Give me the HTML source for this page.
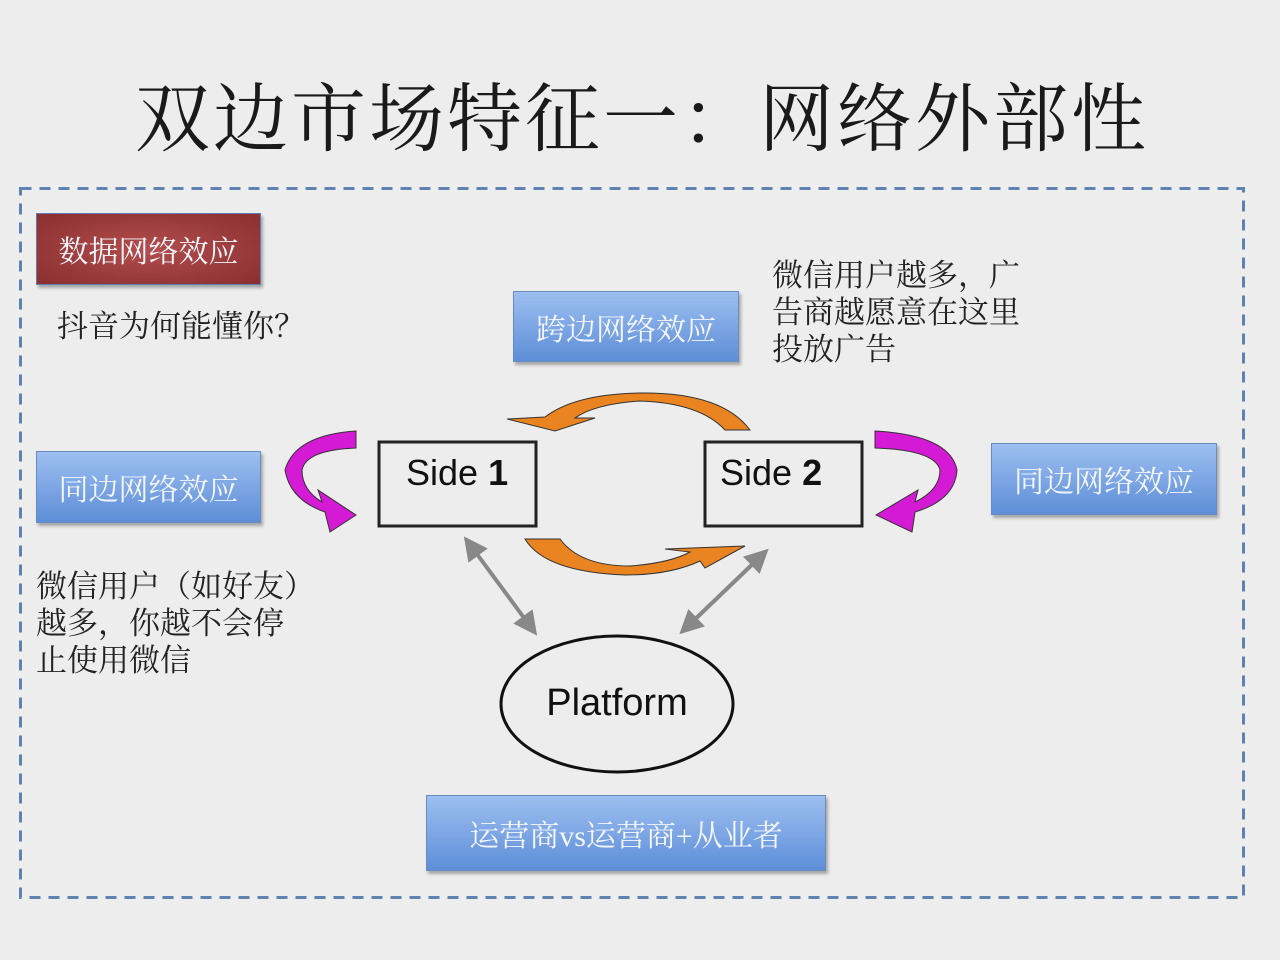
<!DOCTYPE html>
<html><head><meta charset="utf-8"><style>
body{margin:0;width:1280px;height:960px;background:#ededed;position:relative;overflow:hidden;font-family:"Liberation Serif","Noto Serif CJK SC",serif}
.t{position:absolute;white-space:nowrap}
.b{position:absolute;box-sizing:border-box;border:1px solid #6b8cc0;background:linear-gradient(#9dbff0,#5d8ed8);color:#f4f6fb;font-size:30px;display:flex;align-items:center;justify-content:center;box-shadow:2px 3px 3px rgba(0,0,0,.3)}
.k{color:#222;font-size:31px;line-height:37px}
</style></head><body>
<div class="t" style="left:135px;top:60px;font-size:75px;letter-spacing:3px;color:#1a1a1a">双边市场特征一：网络外部性</div>
<div class="b" style="left:36px;top:213px;width:225px;height:72px;background:radial-gradient(ellipse at center,#b24e4e,#8a2e2e);border-color:#5d7fb8">数据网络效应</div>
<div class="t k" style="left:57px;top:308px">抖音为何能懂你？</div>
<div class="b" style="left:513px;top:291px;width:226px;height:71px">跨边网络效应</div>
<div class="t k" style="left:772px;top:257px">微信用户越多，广<br>告商越愿意在这里<br>投放广告</div>
<div class="b" style="left:36px;top:451px;width:225px;height:72px">同边网络效应</div>
<div class="b" style="left:991px;top:443px;width:226px;height:72px">同边网络效应</div>
<div class="t k" style="left:36px;top:568px">微信用户（如好友）<br>越多，你越不会停<br>止使用微信</div>
<div class="b" style="left:426px;top:795px;width:400px;height:76px">运营商vs运营商+从业者</div>
<svg width="1280" height="960" style="position:absolute;left:0;top:0">
<defs><marker id="g" markerWidth="6" markerHeight="6" refX="3" refY="3" orient="auto-start-reverse"><path d="M0,0L6,3L0,6z" fill="#888"/></marker></defs>
<rect x="20.5" y="188.5" width="1223" height="709" fill="none" stroke="#5f82b0" stroke-width="3" stroke-dasharray="11,8"/>
<rect x="379" y="442" width="157" height="84" fill="none" stroke="#222" stroke-width="3"/>
<rect x="705" y="442" width="157" height="84" fill="none" stroke="#222" stroke-width="3"/>
<text x="406" y="485" font-family="Liberation Sans" font-size="36" fill="#111">Side <tspan font-weight="bold">1</tspan></text>
<text x="720" y="485" font-family="Liberation Sans" font-size="36" fill="#111">Side <tspan font-weight="bold">2</tspan></text>
<ellipse cx="617" cy="704" rx="116" ry="68" fill="none" stroke="#111" stroke-width="3"/>
<text x="617" y="715" text-anchor="middle" font-family="Liberation Sans" font-size="38" fill="#111">Platform</text>
<line x1="471" y1="546" x2="530" y2="626" stroke="#888" stroke-width="4" marker-start="url(#g)" marker-end="url(#g)"/>
<line x1="760" y1="557" x2="688" y2="626" stroke="#888" stroke-width="4" marker-start="url(#g)" marker-end="url(#g)"/>
<path d="M750,430 L725,430 Q700,403 640,401 Q595,404 575,418 L595,418 L555,431 L507,419 L545,417 Q575,394 640,393 Q722,392 750,430Z" fill="#ea8420" stroke="#333" stroke-width="1"/>
<path d="M525,539 L560,539 Q580,566 630,566 Q670,563 690,552 L665,549 L745,546 L705,568 L700,561 Q670,575 625,575 Q545,572 525,539Z" fill="#ea8420" stroke="#333" stroke-width="1"/>
<path d="M356,431 Q295,435 285,470 Q290,500 325,512 L330,532 L356,515 L318,490 L322,502 Q302,490 302,470 Q306,450 356,448Z" fill="#d51ad5" stroke="#333" stroke-width="1"/>
<path d="M875,431 Q950,435 957,470 Q955,500 915,512 L912,532 L876,515 L918,490 L915,502 Q940,490 940,470 Q935,450 875,448Z" fill="#d51ad5" stroke="#333" stroke-width="1"/>
</svg>
</body></html>
